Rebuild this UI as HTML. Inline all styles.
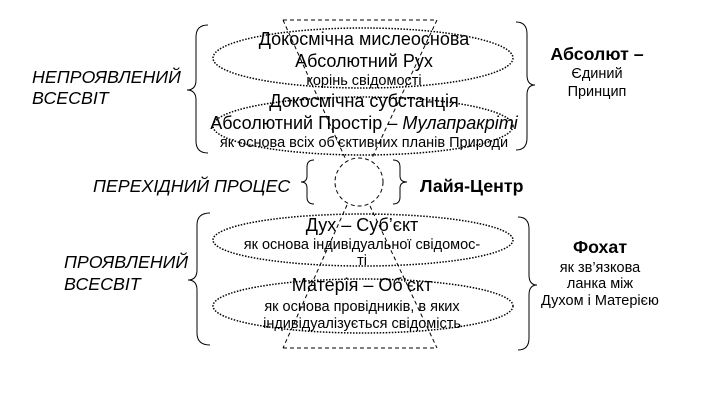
<!DOCTYPE html>
<html><head><meta charset="utf-8"><style>
body{margin:0;background:#fff}
svg{display:block}
text{font-family:"Liberation Sans",sans-serif;fill:#000}
.m{font-size:18px}
.s{font-size:14.5px}
.i{font-style:italic;font-size:17.8px}
.b{font-weight:bold;font-size:17.8px}
</style></head><body>
<svg width="703" height="407" viewBox="0 0 703 407">
<g fill="none" stroke="#000" stroke-width="1">
<g stroke-dasharray="4,3">
<line x1="283" y1="20" x2="437" y2="20"/>
<line x1="283" y1="20" x2="346" y2="160"/>
<line x1="437" y1="20" x2="372" y2="158"/>
<circle cx="359" cy="182" r="24"/>
<line x1="347" y1="205" x2="283" y2="348"/>
<line x1="370" y1="206" x2="437" y2="348"/>
<line x1="283" y1="348" x2="437" y2="348"/>
</g>
<g stroke-dasharray="1.5,1.5" stroke-width="1.5">
<ellipse cx="363" cy="58" rx="150" ry="30"/>
<ellipse cx="363" cy="126" rx="150" ry="29"/>
<ellipse cx="363" cy="240" rx="150" ry="26"/>
<ellipse cx="363" cy="306" rx="150" ry="27"/>
</g>
<path d="M208 25 Q196 25 196 37 L196 80 Q196 90 187 90 Q196 90 196 100 L196 141 Q196 153 208 153"/>
<path d="M210 213 Q197 213 197 225 L197 270 Q197 280 188 280 Q197 280 197 290 L197 333 Q197 345 210 345"/>
<path d="M516 22 Q527 22 527 34 L527 75 Q527 85 535 85 Q527 85 527 95 L527 138 Q527 150 516 150"/>
<path d="M518 217 Q529 217 529 229 L529 275 Q529 285 537 285 Q529 285 529 295 L529 338 Q529 350 518 350"/>
<path d="M314 160 Q307 160 307 167 L307 176 Q307 182 301 182 Q307 182 307 188 L307 197 Q307 204 314 204"/>
<path d="M393 160 Q400 160 400 167 L400 176 Q400 182 407 182 Q400 182 400 188 L400 197 Q400 204 393 204"/>
</g>
<g text-anchor="middle">
<text class="m" x="364" y="45">Докосмічна мислеоснова</text>
<text class="m" x="364" y="67">Абсолютний Рух</text>
<text class="s" x="364" y="85">корінь свідомості</text>
<text class="m" x="364" y="107">Докосмічна субстанція</text>
<text class="m" x="364" y="129">Абсолютний Простір – <tspan font-style="italic">Мулапракріті</tspan></text>
<text class="s" x="364" y="147">як основа всіх об’єктивних планів Природи</text>
<text class="m" x="362" y="231">Дух – Суб’єкт</text>
<text class="s" x="362" y="249">як основа індивідуальної свідомос-</text>
<text class="s" x="362" y="265">ті</text>
<text class="m" x="362" y="291">Матерія – Об’єкт</text>
<text class="s" x="362" y="311">як основа провідників, в яких</text>
<text class="s" x="362" y="328">індивідуалізується свідомість</text>
<text class="b" x="597" y="60">Абсолют –</text>
<text class="s" x="597" y="78">Єдиний</text>
<text class="s" x="597" y="96">Принцип</text>
<text class="b" x="600" y="253">Фохат</text>
<text class="s" x="600" y="272">як зв’язкова</text>
<text class="s" x="600" y="288">ланка  між</text>
<text class="s" x="600" y="305">Духом і Матерією</text>
</g>
<text class="i" x="32" y="83">НЕПРОЯВЛЕНИЙ</text>
<text class="i" x="32" y="104">ВСЕСВІТ</text>
<text class="i" x="93" y="192">ПЕРЕХІДНИЙ ПРОЦЕС</text>
<text class="i" x="64" y="268">ПРОЯВЛЕНИЙ</text>
<text class="i" x="64" y="290">ВСЕСВІТ</text>
<text class="b" x="420" y="192">Лайя-Центр</text>
</svg>
</body></html>
